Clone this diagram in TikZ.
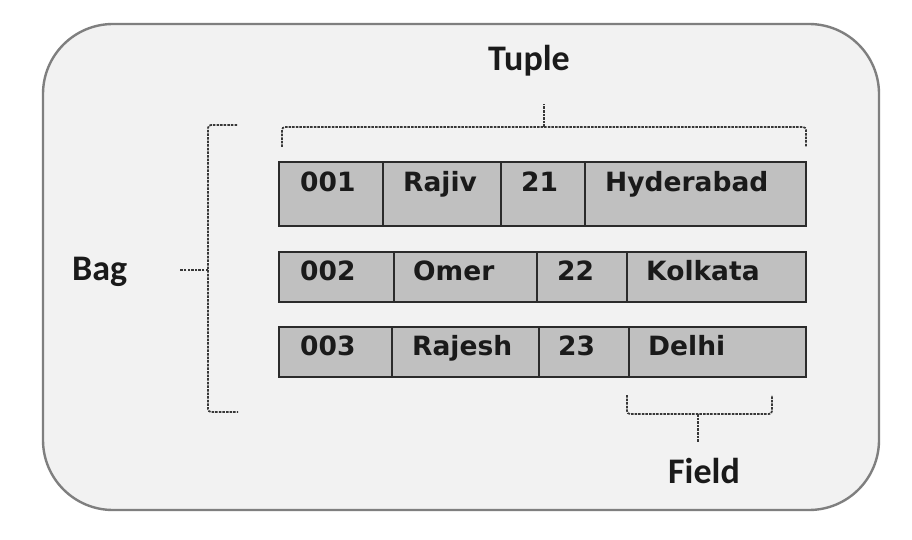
\documentclass[tikz,border=0pt]{standalone}
\usepackage{fontspec}
\setmainfont{DejaVu Sans}
\newfontfamily\cellfont{DejaVu Sans}
\newfontfamily\labfont{Carlito}
\definecolor{panelfill}{HTML}{F2F2F2}
\definecolor{panelline}{HTML}{7F7F7F}
\definecolor{cellfill}{HTML}{C0C0C0}
\definecolor{cellline}{HTML}{2B2B2B}
\definecolor{inktext}{HTML}{1A1A1A}
\definecolor{braceink}{HTML}{383838}
\begin{document}
\begin{tikzpicture}[x=1pt,y=-1pt,
  celltext/.style={anchor=base west,inner sep=0pt,text=inktext,font=\cellfont\bfseries\fontsize{26.5}{30}\selectfont},
  labtext/.style={anchor=base west,inner sep=0pt,text=inktext,font=\labfont\bfseries\fontsize{36}{40}\selectfont},
  rowbox/.style={draw=cellline,fill=cellfill,line width=2.6pt},
  divline/.style={draw=cellline,line width=2.2pt},
  bracepath/.style={draw=braceink,line width=1.7pt,dash pattern=on 2.5pt off 1.1pt,rounded corners=3pt}]
\useasboundingbox (0,0) rectangle (912,540);
\fill[white] (0,0) rectangle (912,540);
% panel
\draw[panelline,fill=panelfill,line width=2.4pt,rounded corners=70pt] (43,24) rectangle (879,510);
% row 1
\draw[rowbox] (279,162) rectangle (806,226);
\draw[divline] (383,162) -- (383,226);
\draw[divline] (501,162) -- (501,226);
\draw[divline] (585,162) -- (585,226);
% row 2
\draw[rowbox] (279,252) rectangle (806,302);
\draw[divline] (394,252) -- (394,302);
\draw[divline] (537,252) -- (537,302);
\draw[divline] (627,252) -- (627,302);
% row 3
\draw[rowbox] (279,327) rectangle (806,377);
\draw[divline] (392,327) -- (392,377);
\draw[divline] (539,327) -- (539,377);
\draw[divline] (629,327) -- (629,377);
% texts row 1
\node[celltext] (t11) at (300,191) {001};
\node[celltext] (t12) at (403,191) {Rajiv};
\node[celltext] (t13) at (521,191) {21};
\node[celltext] (t14) at (605,191) {Hyderabad};
% texts row 2
\node[celltext] (t21) at (300,280) {002};
\node[celltext] (t22) at (413,280) {Omer};
\node[celltext] (t23) at (557,280) {22};
\node[celltext] (t24) at (646,280) {Kolkata};
% texts row 3
\node[celltext] (t31) at (300,355) {003};
\node[celltext] (t32) at (412,355) {Rajesh};
\node[celltext] (t33) at (558,355) {23};
\node[celltext] (t34) at (648,355) {Delhi};
% labels
\node[labtext] (tuple) at (488,71) {Tuple};
\node[labtext] (bag) at (72,280) {Bag};
\node[labtext] (field) at (668,483) {Field};
% braces
\coordinate (tupA) at (282,147);
\coordinate (tupB) at (806,147);
\coordinate (tupM) at (544,127);
\coordinate (tupT) at (544,104);
\draw[bracepath] (tupA) -- (282,127) -- (806,127) -- (tupB);
\draw[bracepath] (tupM) -- (tupT);
\coordinate (bagA) at (237,125);
\coordinate (bagB) at (238,412);
\coordinate (bagM) at (208,270);
\coordinate (bagT) at (180,270);
\draw[bracepath] (bagA) -- (208,125) -- (208,412) -- (bagB);
\draw[bracepath] (bagM) -- (bagT);
\coordinate (fldA) at (627,395);
\coordinate (fldB) at (772,395);
\coordinate (fldM) at (698,414);
\coordinate (fldT) at (698,442);
\draw[bracepath] (fldA) -- (627,414) -- (772,414) -- (fldB);
\draw[bracepath] (fldM) -- (fldT);
\end{tikzpicture}
\end{document}
